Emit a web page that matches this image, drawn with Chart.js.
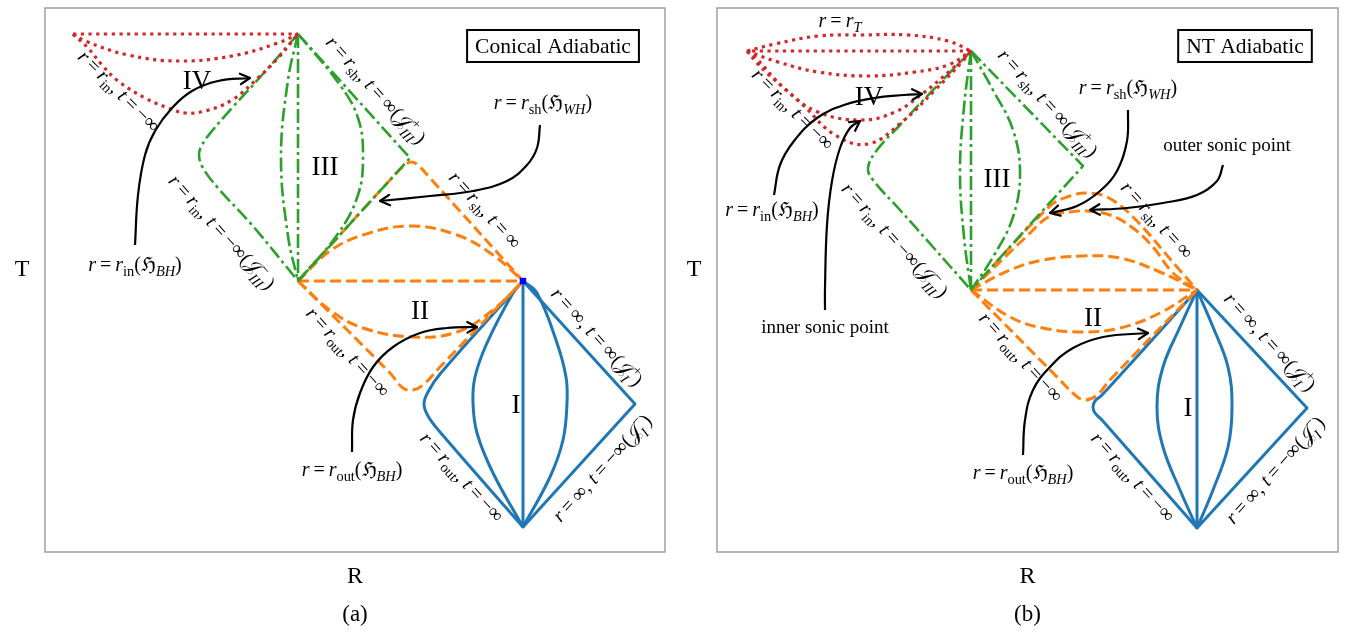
<!DOCTYPE html>
<html>
<head>
<meta charset="utf-8">
<script src="https://cdn.jsdelivr.net/npm/chart.js@4.4.1/dist/chart.umd.min.js"></script>
<style>
  html, body { margin: 0; padding: 0; background: #fff; }
  canvas { position: absolute; top: 0; }
</style>
</head>
<body>
<canvas id="chartA" width="672" height="632" style="left:0"></canvas>
<canvas id="chartB" width="675" height="632" style="left:672px"></canvas>
<script>
// ---------- Panel (a): conical flow, curves in (R, T) diagram units ----------
const aRedTop = [[2.8,51.8],[25.3,51.8]];
const aRedShallow = [[2.8,51.8],[4.0,51.1],[8.3,49.7],[13.3,49.1],[18.7,49.6],[23.3,50.9],[25.3,51.8]];
const aRedDeep = [[2.8,51.8],[4.3,50.4],[5.7,48.7],[7.3,47.1],[10.0,45.4],[12.3,44.4],[14.0,43.9],[16.0,44.1],[18.7,45.2],[21.3,47.4],[23.3,49.4],[25.3,51.8]];
const aGreenAxis = [[25.3,51.8],[25.3,27.1]];
const aGreenLeftBulge = [[25.3,51.8],[24.3,47.2],[23.6,39.4],[24.3,31.6],[25.3,27.1]];
const aGreenRightBulge = [[25.3,51.8],[29.5,46.7],[31.3,43.4],[31.8,39.7],[31.3,35.7],[29.2,31.7],[25.3,27.1]];
const aGreenEdge = [[25.3,51.8],[36.5,39.4],[25.3,27.1]];
const aGreenLeft = [[25.3,51.8],[21.7,47.7],[18.7,44.4],[16.7,42.1],[15.7,40.7],[15.4,39.7],[15.8,38.4],[17.3,36.4],[20.7,32.7],[25.3,27.1]];
const aOrangeAxis = [[25.3,27.1],[47.8,27.1]];
const aOrangeUpperArc = [[25.3,27.1],[28.5,30.1],[31.8,31.7],[36.5,32.6],[41.2,31.7],[44.8,29.7],[47.8,27.1]];
const aOrangeTop = [[25.3,27.1],[34.5,37.2],[36.0,38.7],[36.7,39.0],[37.4,38.6],[38.5,37.4],[47.8,27.1]];
const aOrangeLowerArc = [[25.3,27.1],[28.5,24.2],[31.8,22.4],[36.8,21.5],[41.2,22.0],[44.8,24.2],[47.8,27.1]];
const aOrangeBottom = [[25.3,27.1],[34.5,17.9],[35.8,16.4],[36.8,16.2],[37.8,16.7],[39.5,18.5],[47.8,27.1]];
const aBlueAxis = [[47.8,27.1],[47.8,2.5]];
const aBlueEdge = [[47.8,27.1],[59.0,14.8],[47.8,2.5]];
const aBlueLeft = [[47.8,27.1],[39.5,17.8],[38.3,16.0],[37.9,14.8],[38.3,13.6],[39.5,12.0],[47.8,2.5]];
const aBlueInnerL = [[47.8,27.1],[46.8,25.9],[44.2,20.9],[43.0,17.5],[42.8,14.9],[43.2,11.9],[44.8,7.9],[47.8,2.5]];
const aBlueInnerR = [[47.8,27.1],[49.2,25.9],[51.2,20.9],[52.1,17.5],[52.2,14.9],[51.8,11.2],[50.5,7.5],[47.8,2.5]];
const aJoint = [[47.8,27.1]];
const aArrowIn = [[9.0,30.7],[9.3,35.7],[10.0,39.7],[11.0,42.1],[12.7,44.4],[14.7,46.1],[17.3,47.1],[20.5,47.4]];
const aArrowSh = [[49.5,42.7],[49.2,40.4],[48.2,38.7],[46.2,37.1],[42.8,36.1],[38.5,35.6],[33.5,35.1]];
const aArrowOut = [[30.7,10.0],[30.8,13.2],[31.5,15.9],[32.8,18.5],[34.8,20.5],[37.5,21.9],[40.2,22.4],[43.2,22.5]];

// ---------- Panel (b): NT flow ----------
const bRedUpper = [[3.0,50.1],[5.8,50.8],[10.1,51.6],[14.5,51.7],[19.1,51.7],[23.1,51.1],[25.4,50.1]];
const bRedTop = [[3.5,50.1],[25.4,50.1]];
const bRedShallow = [[3.0,50.1],[6.1,49.0],[10.1,48.0],[15.1,47.6],[19.8,48.0],[23.1,48.7],[25.4,50.1]];
const bRedDeep = [[3.0,50.1],[3.8,49.5],[6.8,46.3],[10.1,44.0],[14.5,43.2],[17.8,44.0],[20.5,45.8],[23.5,48.3],[25.4,50.1]];
const bRedDeeper = [[3.0,50.1],[4.0,48.9],[5.1,47.8],[8.5,44.8],[11.8,41.7],[15.1,40.8],[18.5,43.0],[21.8,46.2],[24.5,49.0],[25.4,50.1]];
const bGreenAxis = [[25.4,50.1],[25.4,26.2]];
const bGreenLeftBulge = [[25.4,50.1],[24.7,44.5],[24.3,38.0],[24.7,31.5],[25.4,26.2]];
const bGreenRightBulge = [[25.4,50.1],[27.6,46.2],[29.6,42.2],[30.3,37.9],[29.6,33.5],[27.6,29.5],[25.4,26.2]];
const bGreenEdge = [[25.4,50.1],[36.6,38.6],[25.4,26.2]];
const bGreenLeft = [[25.4,50.1],[21.6,46.2],[18.3,42.7],[16.0,40.2],[15.1,38.4],[15.6,37.2],[18.3,34.2],[21.6,30.5],[25.4,26.2]];
const bOrangeAxis = [[25.4,26.2],[48.0,26.2]];
const bOrangeUpperArc = [[25.4,26.2],[29.3,28.2],[32.6,29.2],[36.6,29.6],[40.3,29.4],[44.3,28.0],[48.0,26.2]];
const bOrangeSonicOuter = [[25.4,26.2],[33.3,34.6],[35.3,35.6],[37.0,35.9],[39.0,35.5],[41.6,33.5],[46.0,28.5],[48.0,26.2]];
const bOrangeSonicInner = [[25.4,26.2],[31.0,31.6],[33.3,33.6],[35.3,34.0],[37.0,34.1],[39.3,33.7],[41.6,32.4],[43.6,30.5],[45.6,27.9],[48.0,26.2]];
const bOrangeLowerArc = [[25.4,26.2],[29.3,23.5],[32.6,22.4],[36.6,22.0],[40.3,22.4],[44.3,23.9],[48.0,26.2]];
const bOrangeBottom = [[25.4,26.2],[34.3,17.2],[35.8,15.7],[36.8,15.2],[38.0,15.7],[39.3,17.2],[48.0,26.2]];
const bBlueAxis = [[48.0,26.2],[48.0,2.4]];
const bBlueEdge = [[48.0,26.2],[59.0,14.4],[48.0,2.4]];
const bBlueLeft = [[48.0,26.2],[38.5,15.7],[37.8,15.1],[37.6,14.5],[37.8,13.9],[38.5,13.2],[48.0,2.4]];
const bBlueInnerL = [[48.0,26.2],[46.3,22.5],[44.6,18.5],[44.0,14.5],[44.6,10.5],[46.3,6.2],[48.0,2.4]];
const bBlueInnerR = [[48.0,26.2],[49.6,22.5],[51.1,18.5],[51.5,14.5],[51.1,10.5],[49.6,6.2],[48.0,2.4]];
const bArrowIn = [[5.7,35.7],[6.3,38.7],[7.7,41.1],[10.0,43.4],[12.7,44.7],[15.7,45.4],[18.7,45.7],[20.5,45.8]];
const bArrowInnerSonic = [[10.8,24.2],[10.8,26.4],[11.0,32.7],[11.5,37.1],[12.3,40.4],[13.3,42.4],[14.3,43.1]];
const bArrowSh = [[41.1,44.2],[41.0,41.1],[40.0,38.1],[38.3,36.1],[36.0,34.6],[33.3,33.9]];
const bArrowOuterSonic = [[50.6,38.7],[50.0,37.1],[48.0,35.7],[44.6,34.9],[41.0,34.4],[37.3,34.2]];
const bArrowOut = [[30.6,9.7],[30.8,13.2],[31.6,16.2],[33.3,18.5],[35.6,20.4],[38.6,21.5],[43.1,21.9]];

// ---------- styles ----------
const RED = '#d62728', GREEN = '#2ca02c', ORANGE = '#ff7f0e', BLUE = '#1f77b4';
const SERIF = '"Liberation Serif", "DejaVu Serif", serif';
const EDGE = 47.7; // tilt of the null boundaries, degrees

const pts = a => a.map(([x, y]) => ({ x, y }));
function curve(data, color, dash, width, tension) {
  return { data: pts(data), showLine: true, borderColor: color, borderDash: dash, borderWidth: width,
           pointRadius: 0, tension, fill: false, borderCapStyle: 'butt', borderJoinStyle: 'round' };
}
const red = (d) => curve(d, RED, [3.2, 4.5], 3.2, 0.4);
const green = (d, t = 0.4) => curve(d, GREEN, [14, 4, 3, 4], 2.6, t);
const orange = (d, t = 0.4) => curve(d, ORANGE, [11, 5], 3, t);
const blue = (d, t = 0.4) => curve(d, BLUE, [], 3, t);
const arrow = (d) => Object.assign(curve(d, '#000', [], 2.2, 0.4), { arrow: true });

// ---------- math label runs ----------
const it = t => ({ t, f: 'i' });
const rm = t => ({ t, f: 'n' });
const sub = (t, i) => ({ t, f: 'sub', i });
const ss = (b, p) => ({ f: 'ss', b, p });
const J = '\u{1D4A5}';
const EQ = '\u2009=\u2009';
const lblOut = [it('r'), rm(EQ), it('r'), sub('out'), rm(', '), it('t'), rm(EQ + '\u2212\u221E')];
const lblIn = [it('r'), rm(EQ), it('r'), sub('in'), rm(', '), it('t'), rm(EQ + '\u2212\u221E')];
const lblInJ = [it('r'), rm(EQ), it('r'), sub('in'), rm(', '), it('t'), rm(EQ + '\u2212\u221E('), rm(J), ss('III', '\u2212'), rm(')')];
const lblSh = [it('r'), rm(EQ), it('r'), sub('sh'), rm(', '), it('t'), rm(EQ + '\u221E')];
const lblShJ = [it('r'), rm(EQ), it('r'), sub('sh'), rm(', '), it('t'), rm(EQ + '\u221E('), rm(J), ss('III', '+'), rm(')')];
const lblInfP = [it('r'), rm(EQ + '\u221E, '), it('t'), rm(EQ + '\u221E('), rm(J), ss('I', '+'), rm(')')];
const lblInfM = [it('r'), rm(EQ + '\u221E, '), it('t'), rm(EQ + '\u2212\u221E('), rm(J), ss('I', '\u2212'), rm(')')];
const lblHinBH = [it('r'), rm(EQ), it('r'), sub('in'), rm('(\u210C'), sub('BH', true), rm(')')];
const lblHoutBH = [it('r'), rm(EQ), it('r'), sub('out'), rm('(\u210C'), sub('BH', true), rm(')')];
const lblHshWH = [it('r'), rm(EQ), it('r'), sub('sh'), rm('(\u210C'), sub('WH', true), rm(')')];
const lblRT = [it('r'), rm(EQ), it('r'), sub('T', true)];

function fontFor(size, italic) { return (italic ? 'italic ' : '') + size + 'px ' + SERIF; }
function layoutRuns(ctx, runs, fs) {
  let x = 0; const ops = [];
  for (const r of runs) {
    if (r.f === 'ss') {
      const s = fs * 0.7;
      const fb = fontFor(s, true), fp = fontFor(s, false);
      ctx.font = fb; const wb = ctx.measureText(r.b).width;
      ctx.font = fp; const wp = ctx.measureText(r.p).width;
      ops.push({ t: r.b, x: x - 1, dy: fs * 0.3, font: fb });
      ops.push({ t: r.p, x: x, dy: -fs * 0.45, font: fp });
      x += Math.max(wb, wp);
    } else if (r.f === 'sub') {
      const f = fontFor(fs * 0.72, r.i); ctx.font = f;
      ops.push({ t: r.t, x, dy: fs * 0.22, font: f });
      x += ctx.measureText(r.t).width;
    } else {
      const f = fontFor(fs, r.f === 'i'); ctx.font = f;
      ops.push({ t: r.t, x, dy: 0, font: f });
      x += ctx.measureText(r.t).width;
    }
  }
  return { ops, w: x };
}
function drawRuns(ctx, runs, cx, cy, fs, angle) {
  ctx.save();
  ctx.translate(cx, cy);
  ctx.rotate((angle || 0) * Math.PI / 180);
  const { ops, w } = layoutRuns(ctx, runs, fs);
  ctx.textAlign = 'left'; ctx.textBaseline = 'alphabetic'; ctx.fillStyle = '#000';
  for (const o of ops) { ctx.font = o.font; ctx.fillText(o.t, o.x - w / 2, fs * 0.32 + o.dy); }
  ctx.restore();
}

// ---------- overlay: frame, titles, labels, arrow heads ----------
const overlay = {
  id: 'overlay',
  afterDatasetsDraw(chart, args, opts) {
    const { ctx, chartArea: a, scales: { x, y } } = chart;
    const X = v => x.getPixelForValue(v), Y = v => y.getPixelForValue(v);
    ctx.save();
    // arrow heads
    chart.data.datasets.forEach(ds => {
      if (!ds.arrow) return;
      const n = ds.data.length, p = ds.data[n - 1], q = ds.data[n - 2];
      const px = X(p.x), py = Y(p.y), ang = Math.atan2(py - Y(q.y), px - X(q.x));
      ctx.strokeStyle = '#000'; ctx.lineWidth = 2.2; ctx.lineCap = 'round'; ctx.setLineDash([]);
      ctx.beginPath();
      for (const s of [-1, 1]) {
        ctx.moveTo(px, py);
        ctx.lineTo(px - 11 * Math.cos(ang + s * 0.5), py - 11 * Math.sin(ang + s * 0.5));
      }
      ctx.stroke();
    });
    // frame
    ctx.strokeStyle = '#a0a0a0'; ctx.lineWidth = 1.5;
    ctx.strokeRect(a.left, a.top, a.right - a.left, a.bottom - a.top);
    // labels
    for (const l of opts.labels) drawRuns(ctx, l.runs, X(l.x), Y(l.y), l.size, l.angle);
    // title box
    const t = opts.title;
    ctx.font = '21.5px ' + SERIF;
    const tw = ctx.measureText(t.text).width;
    ctx.lineWidth = 2; ctx.strokeStyle = '#000';
    ctx.strokeRect(X(t.x) - tw / 2 - 8, Y(t.y) - 16, tw + 16, 32);
    ctx.fillStyle = '#000'; ctx.textAlign = 'center'; ctx.textBaseline = 'middle';
    ctx.fillText(t.text, X(t.x), Y(t.y) + 1);
    // axis names and panel tag
    ctx.font = '24px ' + SERIF;
    ctx.fillText('T', a.left - 23, Y(28.2));
    ctx.fillText('R', (a.left + a.right) / 2, a.bottom + 25);
    ctx.font = '23px ' + SERIF;
    ctx.fillText(opts.tag, (a.left + a.right) / 2, a.bottom + 63);
    ctx.restore();
  }
};

function makeChart(id, datasets, xMax, pad, labels, title, tag) {
  return new Chart(document.getElementById(id), {
    type: 'scatter',
    data: { datasets },
    options: {
      responsive: false, animation: false, devicePixelRatio: 1, events: [],
      layout: { padding: pad },
      scales: {
        x: { type: 'linear', min: 0, max: xMax, display: false },
        y: { type: 'linear', min: 0, max: 54.4, display: false }
      },
      plugins: { legend: { display: false }, tooltip: { enabled: false },
                 overlay: { labels, title, tag } }
    },
    plugins: [overlay]
  });
}

const R = 27, L = 20, P = 19;
makeChart('chartA', [
  arrow(aArrowIn), arrow(aArrowSh), arrow(aArrowOut),
  { data: pts(aJoint), showLine: false, pointStyle: 'rect', pointRadius: 4.5, backgroundColor: '#0000ff', borderWidth: 0 },
  red(aRedTop), red(aRedShallow), red(aRedDeep),
  green(aGreenAxis, 0), green(aGreenLeftBulge), green(aGreenRightBulge), green(aGreenEdge, 0), green(aGreenLeft),
  orange(aOrangeAxis, 0), orange(aOrangeUpperArc), orange(aOrangeTop), orange(aOrangeLowerArc), orange(aOrangeBottom),
  blue(aBlueAxis, 0), blue(aBlueEdge, 0), blue(aBlueLeft), blue(aBlueInnerL), blue(aBlueInnerR)
], 62, { left: 45, right: 7, top: 8, bottom: 80 }, [
  { runs: lblInfP, x: 55.2, y: 21.5, angle: EDGE, size: L },
  { runs: lblInfM, x: 55.7, y: 8.4, angle: -EDGE, size: L },
  { runs: lblOut, x: 41.7, y: 7.5, angle: EDGE, size: L },
  { runs: lblOut, x: 30.3, y: 20.0, angle: EDGE, size: L },
  { runs: lblSh, x: 44.0, y: 34.2, angle: EDGE, size: L },
  { runs: lblShJ, x: 33.1, y: 46.2, angle: EDGE, size: L },
  { runs: lblInJ, x: 17.7, y: 32.0, angle: EDGE, size: L },
  { runs: lblIn, x: 7.4, y: 46.1, angle: 45, size: L },
  { runs: [rm('IV')], x: 15.2, y: 47.2, size: R },
  { runs: [rm('III')], x: 28.0, y: 38.6, size: R },
  { runs: [rm('II')], x: 37.5, y: 24.2, size: R },
  { runs: [rm('I')], x: 47.1, y: 14.8, size: R },
  { runs: lblHinBH, x: 9.0, y: 28.7, size: L },
  { runs: lblHshWH, x: 49.8, y: 44.9, size: L },
  { runs: lblHoutBH, x: 30.7, y: 8.2, size: L }
], { text: 'Conical Adiabatic', x: 50.8, y: 50.6 }, '(a)');

makeChart('chartB', [
  arrow(bArrowIn), arrow(bArrowInnerSonic), arrow(bArrowSh), arrow(bArrowOuterSonic), arrow(bArrowOut),
  red(bRedUpper), red(bRedTop), red(bRedShallow), red(bRedDeep), red(bRedDeeper),
  green(bGreenAxis, 0), green(bGreenLeftBulge), green(bGreenRightBulge), green(bGreenEdge, 0), green(bGreenLeft),
  orange(bOrangeAxis, 0), orange(bOrangeUpperArc), orange(bOrangeSonicOuter), orange(bOrangeSonicInner), orange(bOrangeLowerArc), orange(bOrangeBottom),
  blue(bBlueAxis, 0), blue(bBlueEdge, 0), blue(bBlueLeft), blue(bBlueInnerL), blue(bBlueInnerR)
], 62.1, { left: 45, right: 9, top: 8, bottom: 80 }, [
  { runs: lblInfP, x: 55.3, y: 21.0, angle: EDGE, size: L },
  { runs: lblInfM, x: 55.8, y: 8.2, angle: -EDGE, size: L },
  { runs: lblOut, x: 41.6, y: 7.5, angle: EDGE, size: L },
  { runs: lblOut, x: 30.4, y: 19.5, angle: EDGE, size: L },
  { runs: lblSh, x: 44.0, y: 33.2, angle: EDGE, size: L },
  { runs: lblShJ, x: 33.1, y: 44.9, angle: EDGE, size: L },
  { runs: lblInJ, x: 17.8, y: 31.2, angle: EDGE, size: L },
  { runs: lblIn, x: 7.6, y: 44.3, angle: 45, size: L },
  { runs: lblRT, x: 12.3, y: 53.1, size: L },
  { runs: [rm('IV')], x: 15.2, y: 45.6, size: R },
  { runs: [rm('III')], x: 28.0, y: 37.4, size: R },
  { runs: [rm('II')], x: 37.6, y: 23.5, size: R },
  { runs: [rm('I')], x: 47.1, y: 14.5, size: R },
  { runs: lblHinBH, x: 5.5, y: 34.2, size: L },
  { runs: [rm('inner sonic point')], x: 10.8, y: 22.5, size: P },
  { runs: lblHshWH, x: 41.1, y: 46.4, size: L },
  { runs: [rm('outer sonic point')], x: 51.0, y: 40.7, size: P },
  { runs: lblHoutBH, x: 30.6, y: 7.9, size: L }
], { text: 'NT Adiabatic', x: 52.8, y: 50.6 }, '(b)');
</script>
</body>
</html>
